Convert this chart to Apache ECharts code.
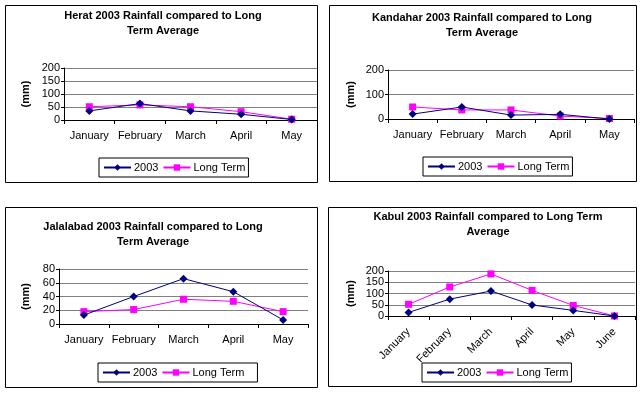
<!DOCTYPE html>
<html>
<head>
<meta charset="utf-8">
<script src="https://cdn.jsdelivr.net/npm/echarts@6/dist/echarts.min.js"></script>
<style>
html,body{margin:0;padding:0;background:#fff;}
#c{width:644px;height:393px;}
</style>
</head>
<body>
<div id="c"></div>
<script>
// ---- data ----
var monthsFive = ['January','February','March','April','May'];
var monthsSix = ['January','February','March','April','May','June'];
var seriesNames = ['2003','Long Term'];

var heratTitle = 'Herat 2003 Rainfall compared to Long\nTerm Average';
var herat2003 = [35, 63, 35, 22, 2];
var heratLong = [51, 58, 51, 32, 3];

var kandaharTitle = 'Kandahar 2003 Rainfall compared to Long\nTerm Average';
var kandahar2003 = [20, 49, 16, 19, 0];
var kandaharLong = [49, 37, 37, 12, 2];

var jalalabadTitle = 'Jalalabad 2003 Rainfall compared to Long\nTerm Average';
var jalalabad2003 = [13, 40, 66, 47, 6];
var jalalabadLong = [18, 21, 36, 33, 18];

var kabulTitle = 'Kabul 2003 Rainfall compared to Long Term\nAverage';
var kabul2003 = [16, 75, 111, 49, 25, 0];
var kabulLong = [52, 129, 187, 114, 47, 0];

var yAxisName = '(mm)';

// ---- layout ----
var FONT = 'Liberation Sans, Arial, sans-serif';
var panels = [
  {title: heratTitle, cats: monthsFive, a: herat2003, b: heratLong,
   box: [5, 5, 312, 177], grid: {left: 64, top: 68, width: 253, height: 52},
   yMax: 200, yInt: 50, titleX: 163, titleY: 8, nameGap: 33, legend: [99, 158], legPadR: 3, rotate: 0},
  {title: kandaharTitle, cats: monthsFive, a: kandahar2003, b: kandaharLong,
   box: [329, 5, 307, 176], grid: {left: 388, top: 70, width: 246, height: 49},
   yMax: 200, yInt: 100, titleX: 482, titleY: 10, nameGap: 32, legend: [423, 157], legPadR: 3, rotate: 0},
  {title: jalalabadTitle, cats: monthsFive, a: jalalabad2003, b: jalalabadLong,
   box: [5, 207, 312, 180], grid: {left: 59, top: 269, width: 249, height: 55},
   yMax: 80, yInt: 20, titleX: 153, titleY: 219, nameGap: 28, legend: [98, 363], legPadR: 13, rotate: 0},
  {title: kabulTitle, cats: monthsSix, a: kabul2003, b: kabulLong,
   box: [328, 207, 308, 179], grid: {left: 388, top: 271, width: 247, height: 45},
   yMax: 200, yInt: 50, titleX: 488, titleY: 209, nameGap: 32, legend: [422, 363], legPadR: 3, rotate: 45}
];

var option = {
  backgroundColor: '#ffffff',
  animation: false,
  title: [], legend: [], grid: [], xAxis: [], yAxis: [], series: [], graphic: []
};

panels.forEach(function (p, i) {
  option.graphic.push({
    type: 'rect', silent: true, z: -1,
    shape: {x: p.box[0] + 0.5, y: p.box[1] + 0.5, width: p.box[2], height: p.box[3]},
    style: {fill: '#fff', stroke: '#000', lineWidth: 1}
  });
  option.title.push({
    text: p.title, left: p.titleX, top: p.titleY, textAlign: 'center', padding: 0,
    textStyle: {fontFamily: FONT, fontSize: 11, fontWeight: 'bold', color: '#000', lineHeight: 15}
  });
  option.legend.push({
    data: seriesNames.map(function (n) { return {name: n}; }),
    left: p.legend[0], top: p.legend[1],
    orient: 'horizontal', itemWidth: 27, itemHeight: 8, itemGap: 4,
    padding: [4, p.legPadR, 4, 4],
    borderColor: '#000', borderWidth: 1,
    textStyle: {fontFamily: FONT, fontSize: 11, color: '#000', padding: [0, 0, 0, -2]},
    selectedMode: false
  });
  option.grid.push({left: p.grid.left, top: p.grid.top, width: p.grid.width, height: p.grid.height, containLabel: false});
  option.xAxis.push({
    type: 'category', gridIndex: i, data: p.cats, boundaryGap: true,
    axisLine: {lineStyle: {color: '#000', width: 1}},
    axisTick: {show: true, length: 4, lineStyle: {color: '#000'}, alignWithLabel: false},
    axisLabel: {interval: 0, rotate: p.rotate, margin: p.rotate ? 14 : 10,
      fontFamily: FONT, fontSize: 11, color: '#000'},
    splitLine: {show: false}
  });
  option.yAxis.push({
    type: 'value', gridIndex: i, min: 0, max: p.yMax, interval: p.yInt,
    name: yAxisName, nameLocation: 'middle', nameGap: p.nameGap, nameRotate: 90,
    nameTextStyle: {fontFamily: FONT, fontSize: 11, fontWeight: 'bold', color: '#000'},
    axisLine: {show: true, lineStyle: {color: '#000', width: 1}},
    axisTick: {show: true, length: 3, lineStyle: {color: '#000'}},
    axisLabel: {margin: 4, fontFamily: FONT, fontSize: 11, color: '#000'},
    splitLine: {show: true, lineStyle: {color: '#808080', width: 1}}
  });
  option.series.push({
    name: seriesNames[0], type: 'line', xAxisIndex: i, yAxisIndex: i, data: p.a,
    symbol: 'diamond', symbolSize: 8, z: 3,
    lineStyle: {color: '#000080', width: 1},
    itemStyle: {color: '#000080', borderWidth: 0}
  });
  option.series.push({
    name: seriesNames[1], type: 'line', xAxisIndex: i, yAxisIndex: i, data: p.b,
    symbol: 'rect', symbolSize: 7, z: 2,
    lineStyle: {color: '#ff00ff', width: 1},
    itemStyle: {color: '#ff00ff', borderWidth: 0}
  });
});

var chart = echarts.init(document.getElementById('c'), null, {renderer: 'canvas'});
chart.setOption(option);
</script>
</body>
</html>
